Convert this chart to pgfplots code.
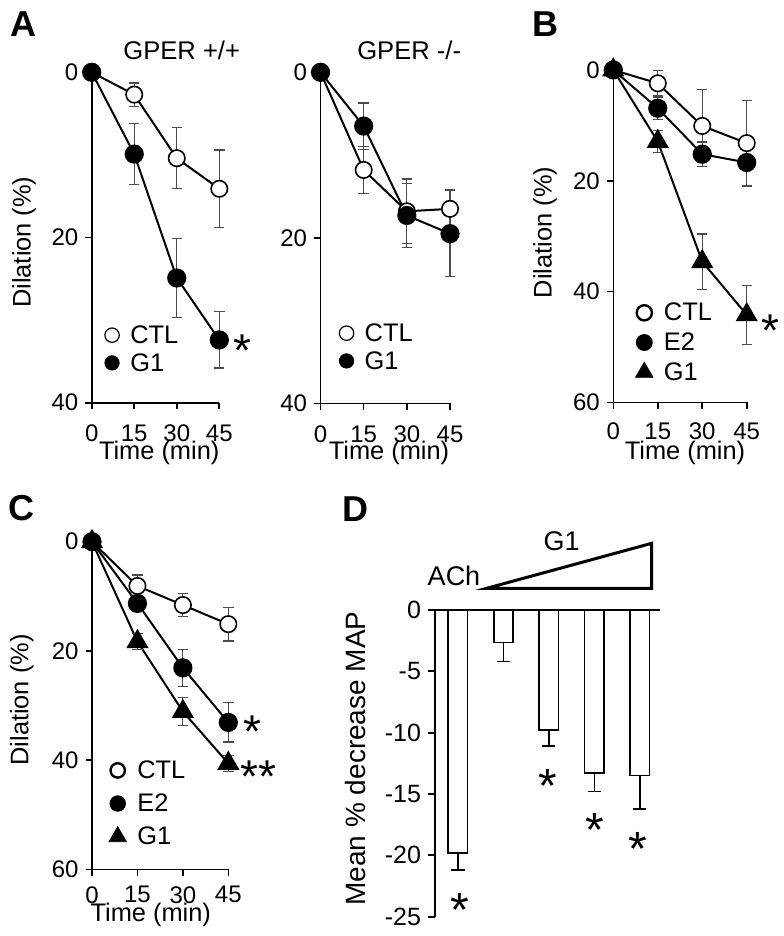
\documentclass[border=0pt]{standalone}
\usepackage{fontspec}
\setmainfont{Liberation Sans}
\usepackage{pgfplots}
\pgfplotsset{compat=1.18}
\definecolor{errc}{gray}{0.3}
\pgfplotsset{
  dil/.style={
    scale only axis, enlargelimits=false, clip=false, anchor=center,
    y dir=reverse,
    axis x line*=bottom, axis y line*=left,
    axis line style={line width=0.8pt},
    tick style={line width=0.8pt, black},
    tick align=outside, major tick length=3.2pt,
    xmin=0, xmax=45,
    xtick={0,15,30,45}, xticklabels={0,15,30,45},
    tick label style={font=\fontsize{12}{14}\selectfont},
    xticklabel shift=4.5pt,
    label style={font=\fontsize{12.7}{15}\selectfont},
    xlabel={Time (min)},
    legend image code/.code={\draw[##1] plot coordinates {(0pt,0.4pt)};},
    legend cell align=left,
    legend style={draw=none, fill=none, inner sep=0pt, anchor=west,
      font=\fontsize{12.7}{15}\selectfont, column sep=3.5pt, row sep=-0.5pt},
  },
  ctl/.style={line width=1pt, black, mark=*, mark size=4.1pt,
    mark options={fill=white, draw=black, line width=0.8pt}},
  gone/.style={line width=1pt, black, mark=*, mark size=4.3pt,
    mark options={fill=black, draw=black}},
  tri/.style={line width=1pt, black, mark=triangle*, mark size=5.4pt,
    mark options={fill=black, draw=black}},
  eb/.style={error bars/.cd, y dir=both, y explicit,
    error bar style={line width=0.6pt, errc},
    error mark options={rotate=90, mark size=2.6pt, line width=0.6pt, errc}},
}
\begin{document}
\begin{tikzpicture}
\useasboundingbox (0pt,0pt) rectangle (391.5pt,-468pt);

% ---------- A left ----------
\begin{axis}[dil, at={(77.75pt,-118.75pt)}, width=63.8pt, height=165.2pt,
  ymin=0, ymax=40, ytick={0,20,40}, yticklabels={0,20,40},
  ylabel={Dilation (\%)},
  xlabel style={at={(axis description cs:0.529,-0.1734)}, anchor=base},
  ylabel style={at={(axis description cs:-0.53,0.486)}, anchor=center},
  legend style={at={(axis cs:4.5,33.6)}}]
\addplot[ctl, forget plot, eb] coordinates {(0,0) +- (0,0) (15,2.7) +- (0,1.4) (30,10.4) +- (0,3.7) (45,14.1) +- (0,4.7)};
\addplot[gone, forget plot, eb] coordinates {(0,0) +- (0,0) (15,9.9) +- (0,3.7) (30,24.9) +- (0,4.75) (45,32.4) +- (0,3.4)};
\addlegendimage{mark=*, mark size=3.6pt, mark options={fill=white, draw=black, line width=0.6pt}}
\addlegendentry{CTL}
\addlegendimage{mark=*, mark size=3.6pt, mark options={fill=black, draw=black}}
\addlegendentry{G1}
\end{axis}

% ---------- A right ----------
\begin{axis}[dil, at={(192.63pt,-118.9pt)}, width=64.75pt, height=165.5pt,
  ymin=0, ymax=40, ytick={0,20,40}, yticklabels={0,20,40},
  xlabel style={at={(axis description cs:0.529,-0.171)}, anchor=base},
  legend style={at={(axis cs:6.4,33.3)}}]
\addplot[ctl, forget plot, eb] coordinates {(0,0) +- (0,0) (15,11.8) +- (0,2.8) (30,16.8) +- (0,3.9) (45,16.5) +- (0,2.3)};
\addplot[gone, forget plot, eb] coordinates {(0,0) +- (0,0) (15,6.5) +- (0,2.8) (30,17.3) +- (0,3.9) (45,19.5) +- (0,5.2)};
\addlegendimage{mark=*, mark size=3.6pt, mark options={fill=white, draw=black, line width=0.6pt}}
\addlegendentry{CTL}
\addlegendimage{mark=*, mark size=3.6pt, mark options={fill=black, draw=black}}
\addlegendentry{G1}
\end{axis}

% ---------- B ----------
\begin{axis}[dil, at={(340pt,-118.08pt)}, width=66.7pt, height=166.15pt,
  ymin=0, ymax=60, ytick={0,20,40,60}, yticklabels={0,20,40,60},
  ylabel={Dilation (\%)},
  xticklabel shift=3.5pt,
  xlabel style={at={(axis description cs:0.5375,-0.1706)}, anchor=base},
  ylabel style={at={(axis description cs:-0.512,0.511)}, anchor=center},
  legend style={at={(axis cs:7.4,49.35)}, row sep=0.5pt}]
\addplot[ctl, forget plot, eb] coordinates {(0,0) +- (0,0) (15,2.4) +- (0,2.3) (30,10.1) +- (0,6.6) (45,13.2) +- (0,7.7)};
\addplot[gone, forget plot, eb] coordinates {(0,0) +- (0,0) (15,6.9) +- (0,2.0) (30,15.2) +- (0,2.2) (45,16.7) +- (0,4.3)};
\addplot[tri, forget plot, eb] coordinates {(0,0) +- (0,0) (15,12.9) +- (0,2.0) (30,34.6) +- (0,5.0) (45,44.2) +- (0,5.3)};
\addlegendimage{mark=*, mark size=3.8pt, mark options={fill=white, draw=black, line width=1.2pt}}
\addlegendentry{CTL}
\addlegendimage{mark=*, mark size=4pt, mark options={fill=black, draw=black}}
\addlegendentry{E2}
\addlegendimage{mark=triangle*, mark size=5pt, mark options={fill=black, draw=black}}
\addlegendentry{G1}
\end{axis}

% ---------- C ----------
\begin{axis}[dil, at={(80.08pt,-352.75pt)}, width=68.15pt, height=163.8pt,
  ymin=0, ymax=60, ytick={0,20,40,60}, yticklabels={0,20,40,60},
  ylabel={Dilation (\%)},
  xticklabel shift=1.8pt,
  xlabel style={at={(axis description cs:0.431,-0.158)}, anchor=base},
  ylabel style={at={(axis description cs:-0.516,0.517)}, anchor=center},
  legend style={at={(axis cs:5.5,48.1)}, row sep=2.2pt}]
\addplot[ctl, forget plot, eb] coordinates {(0,0) +- (0,0) (15,8.1) +- (0,2.0) (30,11.6) +- (0,2.1) (45,15.1) +- (0,3.1)};
\addplot[gone, forget plot, eb] coordinates {(0,0) +- (0,0) (15,11.3) +- (0,1.5) (30,23.1) +- (0,3.4) (45,33.1) +- (0,3.6)};
\addplot[tri, forget plot, eb] coordinates {(0,0) +- (0,0) (15,18.3) +- (0,1.5) (30,31.1) +- (0,2.5) (45,40.6) +- (0,1.5)};
\addlegendimage{mark=*, mark size=3.6pt, mark options={fill=white, draw=black, line width=1.2pt}}
\addlegendentry{CTL}
\addlegendimage{mark=*, mark size=3.9pt, mark options={fill=black, draw=black}}
\addlegendentry{E2}
\addlegendimage{mark=triangle*, mark size=5pt, mark options={fill=black, draw=black}}
\addlegendentry{G1}
\end{axis}

% ---------- D ----------
\begin{axis}[scale only axis, enlargelimits=false, clip=false, anchor=center,
  at={(273.75pt,-381.68pt)}, width=112.5pt, height=153.35pt,
  xmin=0.494, xmax=5.446, ymin=-25, ymax=0,
  axis x line*=top, axis y line*=left, xtick=\empty,
  axis line style={line width=0.9pt},
  tick style={line width=0.9pt, black},
  tick align=outside, major tick length=3.5pt,
  ytick={0,-5,-10,-15,-20,-25}, yticklabels={0,-5,-10,-15,-20,-25},
  tick label style={font=\fontsize{12.5}{14}\selectfont},
  ylabel={Mean \% decrease MAP},
  ylabel style={at={(axis description cs:-0.352,0.516)}, anchor=center,
    font=\fontsize{14}{16}\selectfont}]
\addplot[ybar, bar width=9.7pt, fill=white, draw=black, line width=0.8pt,
  error bars/.cd, y dir=minus, y explicit,
  error bar style={line width=0.8pt, black},
  error mark options={rotate=90, mark size=3.3pt, line width=0.8pt, black}]
  coordinates {(1,-19.83) +- (0,1.37) (2,-2.66) +- (0,1.54) (3,-9.78) +- (0,1.32) (4,-13.3) +- (0,1.5) (5,-13.5) +- (0,2.7)};
\end{axis}

% ---------- annotations ----------
\node[anchor=base west, inner sep=0pt, font=\fontsize{18}{20}\selectfont\bfseries] at (5pt,-18.5pt) {A};
\node[anchor=base west, inner sep=0pt, font=\fontsize{18}{20}\selectfont\bfseries] at (266.2pt,-18.35pt) {B};
\node[anchor=base west, inner sep=0pt, font=\fontsize{18}{20}\selectfont\bfseries] at (4pt,-260pt) {C};
\node[anchor=base west, inner sep=0pt, font=\fontsize{18}{20}\selectfont\bfseries] at (171.2pt,-260.85pt) {D};

\node[anchor=base, inner sep=0pt, font=\fontsize{12.8}{15}\selectfont] at (90.85pt,-30pt) {GPER +/+};
\node[anchor=base, inner sep=0pt, font=\fontsize{12.8}{15}\selectfont] at (204.6pt,-30pt) {GPER -/-};

\node[anchor=base, inner sep=0pt, font=\fontsize{23}{25}\selectfont] at (121.25pt,-183.35pt) {*};
\node[anchor=base, inner sep=0pt, font=\fontsize{23}{25}\selectfont] at (385pt,-173.35pt) {*};
\node[anchor=base, inner sep=0pt, font=\fontsize{23}{25}\selectfont] at (126.25pt,-373.85pt) {*};
\node[anchor=base, inner sep=0pt, font=\fontsize{23}{25}\selectfont] at (129.15pt,-396.35pt) {**};
\node[anchor=base, inner sep=0pt, font=\fontsize{24}{26}\selectfont] at (230pt,-463pt) {*};
\node[anchor=base, inner sep=0pt, font=\fontsize{24}{26}\selectfont] at (273.85pt,-401.4pt) {*};
\node[anchor=base, inner sep=0pt, font=\fontsize{24}{26}\selectfont] at (297.5pt,-423.05pt) {*};
\node[anchor=base, inner sep=0pt, font=\fontsize{24}{26}\selectfont] at (319.15pt,-432.55pt) {*};

\draw[line width=1.5pt, line join=miter] (243.35pt,-294.15pt) -- (325.85pt,-294.15pt) -- (325.85pt,-271.65pt) -- cycle;
\node[anchor=base, inner sep=0pt, font=\fontsize{13.5}{15}\selectfont] at (227pt,-292.5pt) {ACh};
\node[anchor=base, inner sep=0pt, font=\fontsize{13.5}{15}\selectfont] at (280.85pt,-275.35pt) {G1};
\end{tikzpicture}
\end{document}
